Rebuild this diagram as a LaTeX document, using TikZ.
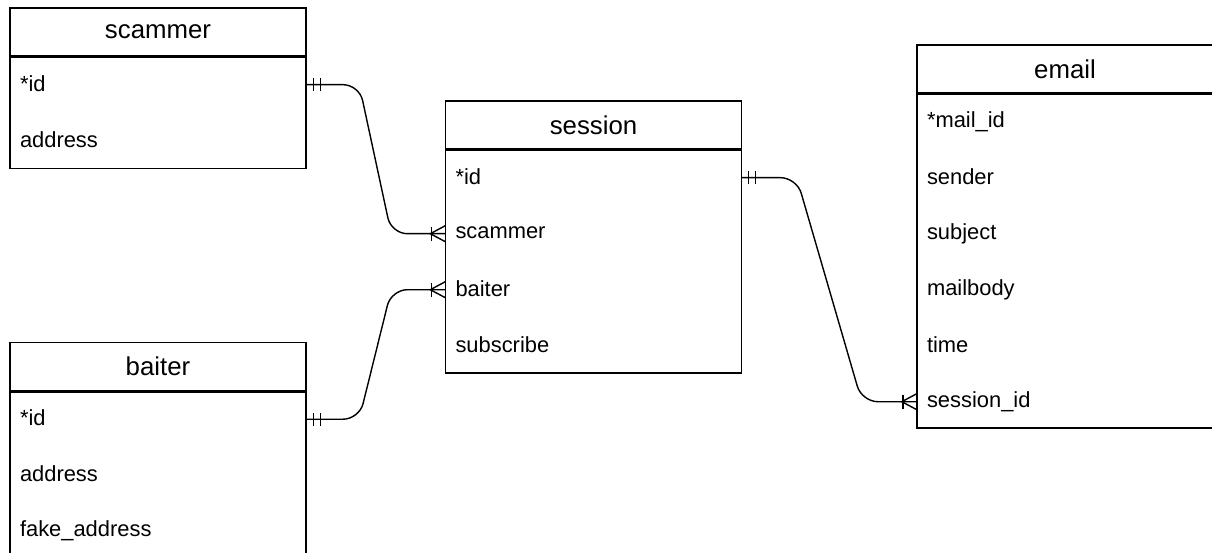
\documentclass[tikz,border=0pt]{standalone}
\usepackage{fontspec}
\setmainfont{Liberation Sans}
\begin{document}
\begin{tikzpicture}[x=1pt,y=-1pt,
  lw/.style={line width=1.4pt},
  hdr/.style={draw, lw, minimum width=296pt, minimum height=48pt, inner sep=0pt, font=\fontsize{25.8}{30}\selectfont},
  body/.style={draw, lw, minimum width=296pt, inner sep=0pt, anchor=north},
  row/.style={minimum height=55.6pt, text width=276pt, inner xsep=10pt, inner ysep=0pt, align=left, font=\fontsize{21.9}{26}\selectfont, anchor=north},
  rel/.style={lw, rounded corners=16pt}]
\useasboundingbox (0,0) rectangle (1212,553);
\clip (0,0) rectangle (1212,553);
\newcommand{\rt}[1]{\raisebox{2.5pt}{#1}}

% scammer
\node[hdr] (scH) at (158,32) {scammer};
\node[body, minimum height=111.2pt] (scB) at (scH.south) {};
\node[row] (sc1) at (scB.north) {\rt{*id}};
\node[row] (sc2) at (sc1.south) {\rt{address}};

% baiter
\node[hdr] (baH) at (158,366.5) {baiter};
\node[body, minimum height=166.8pt] (baB) at (baH.south) {};
\node[row] (ba1) at (baB.north) {\rt{*id}};
\node[row] (ba2) at (ba1.south) {\rt{address}};
\node[row] (ba3) at (ba2.south) {\rt{fake\_address}};

% session
\node[hdr] (ssH) at (593.5,125) {session};
\node[body, minimum height=222.4pt] (ssB) at (ssH.south) {};
\node[row] (ss1) at (ssB.north) {\rt{*id}};
\node[row] (ss2) at (ss1.south) {\rt{scammer}};
\node[row] (ss3) at (ss2.south) {\rt{baiter}};
\node[row] (ss4) at (ss3.south) {\rt{subscribe}};

% email
\node[hdr] (emH) at (1065,69) {email};
\node[body, minimum height=333.6pt] (emB) at (emH.south) {};
\node[row] (em1) at (emB.north) {\rt{*mail\_id}};
\node[row] (em2) at (em1.south) {\rt{sender}};
\node[row] (em3) at (em2.south) {\rt{subject}};
\node[row] (em4) at (em3.south) {\rt{mailbody}};
\node[row] (em5) at (em4.south) {\rt{time}};
\node[row] (em6) at (em5.south) {\rt{session\_id}};

% relations
\draw[rel] (sc1.east) -- ++(53,0) -- ([xshift=-54pt]ss2.west) -- (ss2.west);
\draw[rel] (ba1.east) -- ++(53,0) -- ([xshift=-54pt]ss3.west) -- (ss3.west);
\draw[rel] (ss1.east) -- ++(55,0) -- ([xshift=-55pt]em6.west) -- (em6.west);

% mandatory-one marks
\foreach \n in {sc1,ba1,ss1} {
  \draw[lw] ([xshift=7pt,yshift=-6.5pt]\n.east) -- ++(0pt,13pt);
  \draw[lw] ([xshift=14pt,yshift=-6.5pt]\n.east) -- ++(0pt,13pt);
}
% one-or-many marks
\foreach \n in {ss2,ss3,em6} {
  \draw[lw] ([yshift=8pt]\n.west) -- ([xshift=-15pt]\n.west) -- ([yshift=-8pt]\n.west);
  \draw[lw] ([xshift=-14pt,yshift=-7pt]\n.west) -- ++(0pt,14pt);
}
\end{tikzpicture}
\end{document}
